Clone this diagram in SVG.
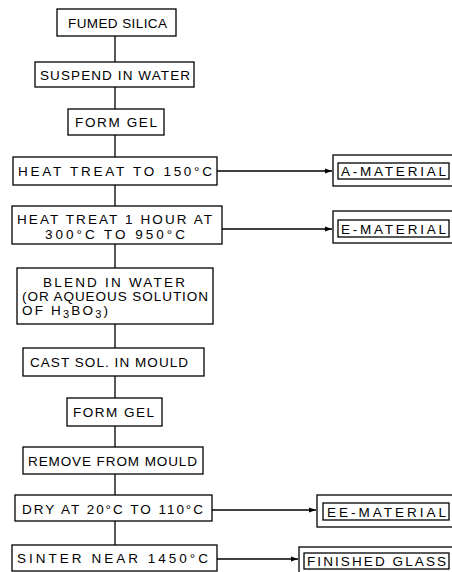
<svg xmlns="http://www.w3.org/2000/svg" width="452" height="572" viewBox="0 0 452 572">
<style>
rect{fill:none;stroke:#000;stroke-width:1.3}
text{font-family:"Liberation Sans","DejaVu Sans",sans-serif;font-size:13.5px;fill:#000}
.c line{stroke:#000;stroke-width:1.3}
</style>
<defs>
<marker id="ah" markerWidth="8" markerHeight="6" refX="7" refY="3" orient="auto" markerUnits="userSpaceOnUse">
<path d="M0,0.5 L7,3 L0,5.5 Z" fill="#000"/>
</marker>
</defs>
<rect x="0" y="0" width="452" height="572" style="fill:#fff;stroke:none"/>
<g class="c" id="connectors">
<line x1="115" y1="36" x2="115" y2="62"/>
<line x1="115" y1="87" x2="115" y2="109"/>
<line x1="115" y1="135" x2="115" y2="157"/>
<line x1="115" y1="185" x2="115" y2="206"/>
<line x1="115" y1="244" x2="115" y2="268"/>
<line x1="115" y1="324" x2="115" y2="348"/>
<line x1="115" y1="376" x2="115" y2="398"/>
<line x1="115" y1="426" x2="115" y2="447"/>
<line x1="115" y1="474" x2="115" y2="495"/>
<line x1="115" y1="521" x2="115" y2="545"/>
<line x1="217" y1="171" x2="332" y2="171" marker-end="url(#ah)"/>
<line x1="222" y1="229" x2="332" y2="229" marker-end="url(#ah)"/>
<line x1="212" y1="510" x2="316" y2="510" marker-end="url(#ah)"/>
<line x1="217" y1="559" x2="298" y2="559" marker-end="url(#ah)"/>
</g>
<g id="n1"><rect x="57" y="9" width="119" height="27"/><text x="68" y="28" textLength="99" lengthAdjust="spacing">FUMED SILICA</text></g>
<g id="n2"><rect x="35" y="62" width="159" height="25"/><text x="40" y="80" textLength="150" lengthAdjust="spacing">SUSPEND IN WATER</text></g>
<g id="n3"><rect x="68" y="109" width="96" height="26"/><text x="75" y="127" textLength="82" lengthAdjust="spacing">FORM GEL</text></g>
<g id="n4"><rect x="13" y="157" width="204" height="28"/><text x="18" y="176" textLength="194" lengthAdjust="spacing">HEAT TREAT TO 150°C</text></g>
<g id="n5"><rect x="12" y="206" width="210" height="38"/><text x="17" y="224" textLength="195" lengthAdjust="spacing">HEAT TREAT 1 HOUR AT</text><text x="45" y="239" textLength="140" lengthAdjust="spacing">300°C TO 950°C</text></g>
<g id="n6"><rect x="17" y="268" width="196" height="56"/><text x="43" y="287" textLength="142" lengthAdjust="spacing">BLEND IN WATER</text><text x="22" y="301" textLength="186" lengthAdjust="spacing">(OR AQUEOUS SOLUTION</text><text x="22" y="315" textLength="86" lengthAdjust="spacing">OF H<tspan dy="3" font-size="11">3</tspan><tspan dy="-3">BO</tspan><tspan dy="3" font-size="11">3</tspan><tspan dy="-3">)</tspan></text></g>
<g id="n7"><rect x="23" y="348" width="181" height="28"/><text x="30" y="367" textLength="158" lengthAdjust="spacing">CAST SOL. IN MOULD</text></g>
<g id="n8"><rect x="67" y="398" width="95" height="28"/><text x="73" y="417" textLength="81" lengthAdjust="spacing">FORM GEL</text></g>
<g id="n9"><rect x="23" y="447" width="180" height="27"/><text x="28" y="466" textLength="169" lengthAdjust="spacing">REMOVE FROM MOULD</text></g>
<g id="n10"><rect x="15" y="495" width="197" height="26"/><text x="22" y="514" textLength="181" lengthAdjust="spacing">DRY AT 20°C TO 110°C</text></g>
<g id="n11"><rect x="12" y="545" width="205" height="26"/><text x="17" y="563" textLength="191" lengthAdjust="spacing">SINTER NEAR 1450°C</text></g>
<g id="o1"><rect x="333" y="155" width="125" height="31"/><rect x="338" y="163" width="111" height="16"/><text x="341" y="176" textLength="105" lengthAdjust="spacing">A-MATERIAL</text></g>
<g id="o2"><rect x="333" y="211" width="125" height="32"/><rect x="338" y="220" width="111" height="17"/><text x="341" y="234" textLength="105" lengthAdjust="spacing">E-MATERIAL</text></g>
<g id="o3"><rect x="317" y="495" width="141" height="32"/><rect x="323" y="503" width="126" height="17"/><text x="327" y="517" textLength="119" lengthAdjust="spacing">EE-MATERIAL</text></g>
<g id="o4"><rect x="299" y="547" width="159" height="30"/><rect x="304" y="553" width="145" height="16"/><text x="307" y="566" textLength="139" lengthAdjust="spacing">FINISHED GLASS</text></g>
</svg>
